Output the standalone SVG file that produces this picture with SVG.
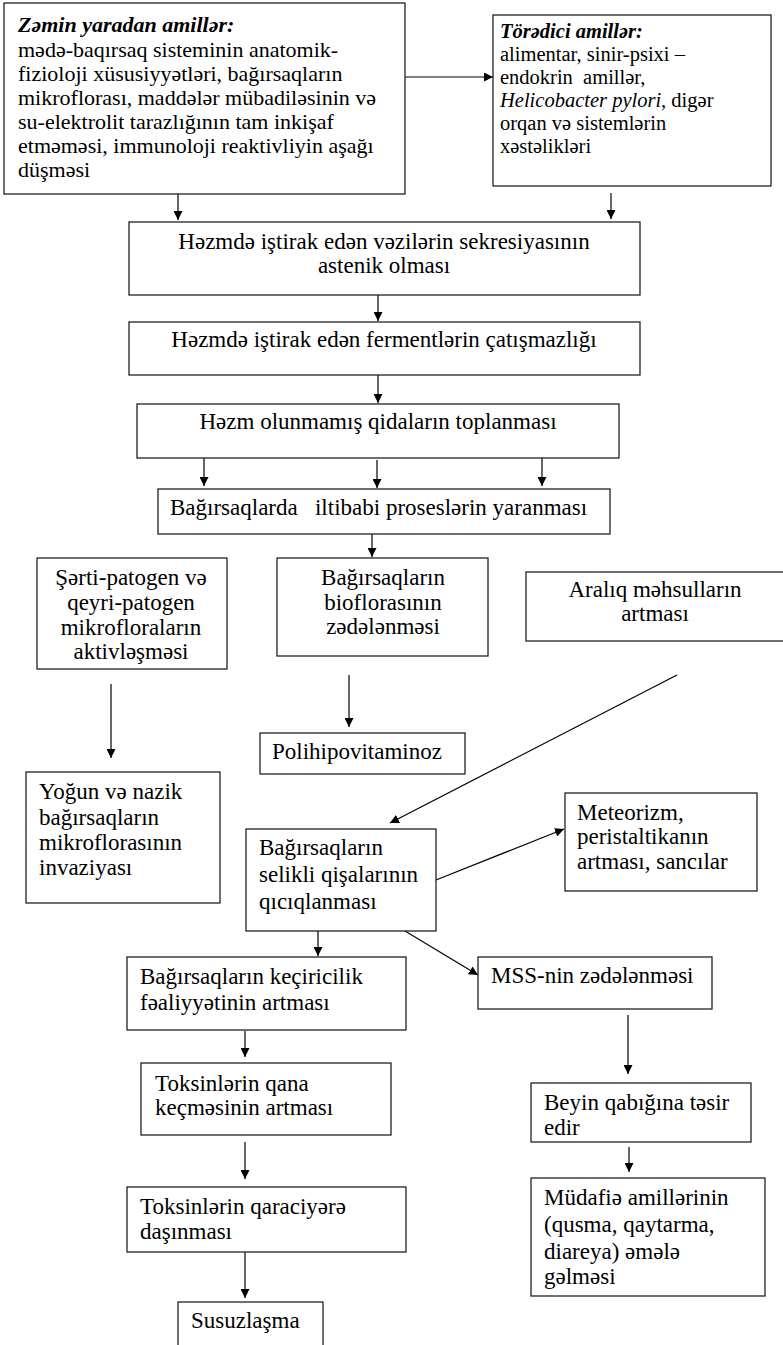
<svg xmlns="http://www.w3.org/2000/svg" width="783" height="1345" viewBox="0 0 783 1345">
<defs>
<marker id="ah" viewBox="0 0 10 10" refX="10" refY="5" markerWidth="9" markerHeight="9" markerUnits="userSpaceOnUse" orient="auto">
<path d="M0,0 L10,5 L0,10 z" fill="#000"/>
</marker>
<style>
.b{fill:#fff;stroke:#222;stroke-width:1.3}
.t{font-family:"Liberation Serif","Times New Roman",serif;font-size:23px;fill:#000}
.s{font-size:22px}
.s2{font-size:20.5px}
.c{text-anchor:middle}
.bi{font-weight:bold;font-style:italic}
.i{font-style:italic}
.l{stroke:#000;stroke-width:1.2;fill:none;marker-end:url(#ah)}
</style>
</defs>
<rect width="783" height="1345" fill="#fff"/>
<g id="connectors">
<line class="l" x1="405" y1="77" x2="493" y2="77"/>
<line class="l" x1="178" y1="194" x2="178" y2="220"/>
<line class="l" x1="611" y1="193" x2="611" y2="219"/>
<line class="l" x1="378" y1="295" x2="378" y2="321"/>
<line class="l" x1="378" y1="375" x2="378" y2="403"/>
<line class="l" x1="204" y1="458" x2="204" y2="486"/>
<line class="l" x1="377" y1="460" x2="377" y2="488"/>
<line class="l" x1="542" y1="458" x2="542" y2="486"/>
<line class="l" x1="372" y1="534" x2="372" y2="557"/>
<line class="l" x1="111" y1="684" x2="111" y2="758"/>
<line class="l" x1="349" y1="675" x2="349" y2="727"/>
<line class="l" x1="677" y1="675" x2="390" y2="823"/>
<line class="l" x1="436" y1="880" x2="564" y2="829"/>
<line class="l" x1="318" y1="931" x2="318" y2="956"/>
<line class="l" x1="405" y1="931" x2="478" y2="975"/>
<line class="l" x1="628" y1="1015" x2="628" y2="1074"/>
<line class="l" x1="629" y1="1147" x2="629" y2="1172"/>
<line class="l" x1="245" y1="1031" x2="245" y2="1057"/>
<line class="l" x1="245" y1="1142" x2="245" y2="1179"/>
<line class="l" x1="245" y1="1252" x2="245" y2="1298"/>
</g>
<g id="n1">
<rect class="b" x="4" y="3" width="401" height="191"/>
<text class="t s bi" x="18" y="32">Zəmin yaradan amillər:</text>
<text class="t s" x="18" y="57">mədə-baqırsaq sisteminin anatomik-</text>
<text class="t s" x="18" y="81">fizioloji xüsusiyyətləri, bağırsaqların</text>
<text class="t s" x="18" y="105">mikroflorası, maddələr mübadiləsinin və</text>
<text class="t s" x="18" y="129">su-elektrolit tarazlığının tam inkişaf</text>
<text class="t s" x="18" y="153">etməməsi, immunoloji reaktivliyin aşağı</text>
<text class="t s" x="18" y="177">düşməsi</text>
</g>
<g id="n2">
<rect class="b" x="493" y="15" width="278" height="171"/>
<text class="t s2 bi" x="500" y="38">Törədici amillər:</text>
<text class="t s2" x="500" y="61">alimentar, sinir-psixi –</text>
<text class="t s2" x="500" y="84" style="white-space:pre">endokrin  amillər,</text>
<text class="t s2" x="500" y="107"><tspan class="i">Helicobacter pylori,</tspan> digər</text>
<text class="t s2" x="500" y="130">orqan və sistemlərin</text>
<text class="t s2" x="500" y="153">xəstəlikləri</text>
</g>
<g id="n3">
<rect class="b" x="129" y="222" width="511" height="73"/>
<text class="t c" x="384" y="249">Həzmdə iştirak edən vəzilərin sekresiyasının</text>
<text class="t c" x="384" y="273">astenik olması</text>
</g>
<g id="n4">
<rect class="b" x="129" y="322" width="511" height="53"/>
<text class="t c" x="384" y="347">Həzmdə iştirak edən fermentlərin çatışmazlığı</text>
</g>
<g id="n5">
<rect class="b" x="137" y="404" width="482" height="54"/>
<text class="t c" x="378" y="429">Həzm olunmamış qidaların toplanması</text>
</g>
<g id="n6">
<rect class="b" x="158" y="489" width="452" height="45"/>
<text class="t" x="170" y="515" style="white-space:pre">Bağırsaqlarda   iltibabi proseslərin yaranması</text>
</g>
<g id="n7">
<rect class="b" x="37" y="558" width="190" height="111"/>
<text class="t c" x="131" y="585">Şərti-patogen və</text>
<text class="t c" x="131" y="610">qeyri-patogen</text>
<text class="t c" x="131" y="635">mikrofloraların</text>
<text class="t c" x="131" y="659">aktivləşməsi</text>
</g>
<g id="n8">
<rect class="b" x="277" y="558" width="211" height="98"/>
<text class="t c" x="383" y="585">Bağırsaqların</text>
<text class="t c" x="383" y="610">bioflorasının</text>
<text class="t c" x="383" y="634">zədələnməsi</text>
</g>
<g id="n9">
<rect class="b" x="526" y="572" width="262" height="69"/>
<text class="t c" x="655" y="597">Aralıq məhsulların</text>
<text class="t c" x="655" y="621">artması</text>
</g>
<g id="n10">
<rect class="b" x="260" y="733" width="205" height="41"/>
<text class="t" x="272" y="759">Polihipovitaminoz</text>
</g>
<g id="n11">
<rect class="b" x="26" y="772" width="194" height="131"/>
<text class="t" x="39" y="799">Yoğun və nazik</text>
<text class="t" x="39" y="825">bağırsaqların</text>
<text class="t" x="39" y="850">mikroflorasının</text>
<text class="t" x="39" y="875">invaziyası</text>
</g>
<g id="n12">
<rect class="b" x="246" y="829" width="190" height="102"/>
<text class="t" x="259" y="855">Bağırsaqların</text>
<text class="t" x="259" y="882">selikli qişalarının</text>
<text class="t" x="259" y="909">qıcıqlanması</text>
</g>
<g id="n13">
<rect class="b" x="565" y="793" width="192" height="98"/>
<text class="t" x="577" y="820">Meteorizm,</text>
<text class="t" x="577" y="844">peristaltikanın</text>
<text class="t" x="577" y="869">artması, sancılar</text>
</g>
<g id="n14">
<rect class="b" x="127" y="957" width="279" height="73"/>
<text class="t" x="140" y="984">Bağırsaqların keçiricilik</text>
<text class="t" x="140" y="1010">fəaliyyətinin artması</text>
</g>
<g id="n15">
<rect class="b" x="478" y="957" width="234" height="52"/>
<text class="t" x="491" y="983">MSS-nin zədələnməsi</text>
</g>
<g id="n16">
<rect class="b" x="141" y="1063" width="250" height="72"/>
<text class="t" x="155" y="1091">Toksinlərin qana</text>
<text class="t" x="155" y="1115">keçməsinin artması</text>
</g>
<g id="n17">
<rect class="b" x="531" y="1083" width="220" height="59"/>
<text class="t" x="544" y="1110">Beyin qabığına təsir</text>
<text class="t" x="544" y="1135">edir</text>
</g>
<g id="n18">
<rect class="b" x="127" y="1187" width="279" height="65"/>
<text class="t" x="140" y="1214">Toksinlərin qaraciyərə</text>
<text class="t" x="140" y="1239">daşınması</text>
</g>
<g id="n19">
<rect class="b" x="531" y="1178" width="234" height="118"/>
<text class="t" x="544" y="1205">Müdafiə amillərinin</text>
<text class="t" x="544" y="1232">(qusma, qaytarma,</text>
<text class="t" x="544" y="1259">diareya) əmələ</text>
<text class="t" x="544" y="1284">gəlməsi</text>
</g>
<g id="n20">
<rect class="b" x="178" y="1302" width="145" height="60"/>
<text class="t" x="191" y="1328">Susuzlaşma</text>
</g>
</svg>
